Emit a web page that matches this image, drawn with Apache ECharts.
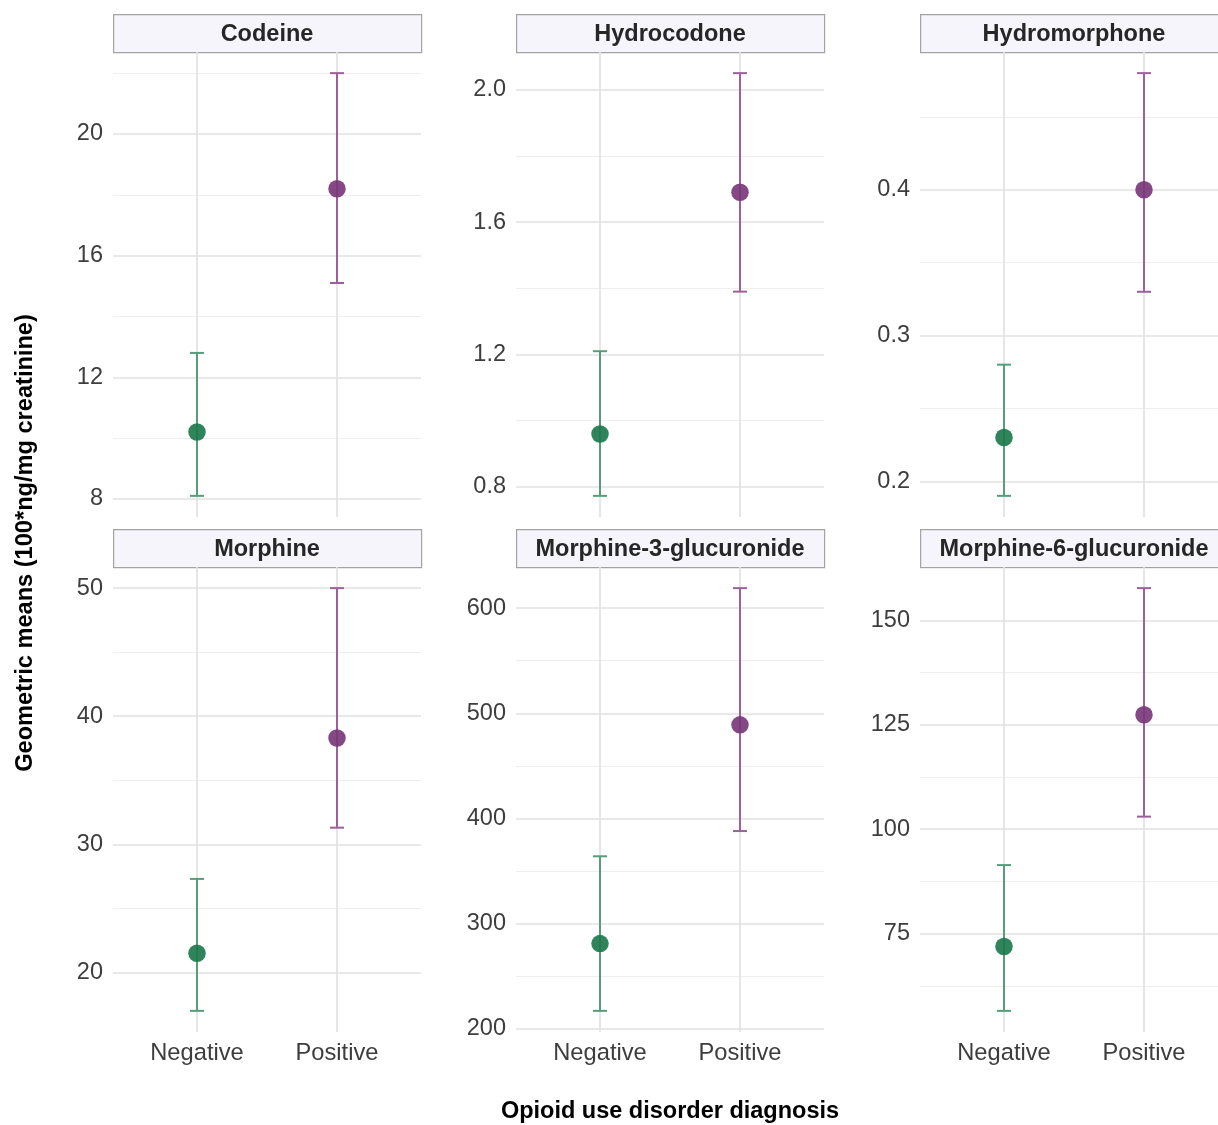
<!DOCTYPE html>
<html><head><meta charset="utf-8">
<script src="https://cdn.jsdelivr.net/npm/echarts@6/dist/echarts.min.js"></script>
<style>html,body{margin:0;padding:0;background:#fff;overflow:hidden}#c{width:1232px;height:1125px}</style>
</head><body><div id="c"></div>
<script>
// ---- data ----
const panels = ['Codeine','Hydrocodone','Hydromorphone','Morphine','Morphine-3-glucuronide','Morphine-6-glucuronide'];
const groups = ['Negative','Positive'];
const negMean  = [10.2, 0.96, 0.23, 21.5, 281, 71.9];
const negLower = [8.1, 0.773, 0.19, 17.0, 217, 56.5];
const negUpper = [12.8, 1.21, 0.28, 27.3, 364, 91.4];
const posMean  = [18.2, 1.69, 0.40, 38.3, 489, 127.4];
const posLower = [15.1, 1.39, 0.33, 31.3, 388, 103.0];
const posUpper = [22.0, 2.05, 0.48, 50.0, 619, 157.7];
const majorTicks = [['8','12','16','20'],['0.8','1.2','1.6','2.0'],['0.2','0.3','0.4'],['20','30','40','50'],['200','300','400','500','600'],['75','100','125','150']];
const minorTicks = [[10,14,18,22],[1.0,1.4,1.8],[0.25,0.35,0.45],[25,35,45],[250,350,450,550],[62.5,87.5,112.5,137.5,162.5]];
const yTitle = 'Geometric means (100*ng/mg creatinine)';
const xTitle = 'Opioid use disorder diagnosis';

// ---- style / layout ----
const FONT = '"Liberation Sans", Arial, Helvetica, sans-serif';
const pointColors = ['#1d7a4e', '#7a387a'];
const barColors = ['#579d7a', '#9d609b'];
const colLeft = [113, 516, 920];
const rowTop = [52, 567];
const panelW = 308, panelH = 465, stripH = 38;

const grids = [], xAxes = [], yAxes = [], series = [], graphics = [];

panels.forEach((name, i) => {
  const col = i % 3, row = Math.floor(i / 3);
  const left = colLeft[col], top = rowTop[row];
  grids.push({left: left, top: top, width: panelW, height: panelH, containLabel: false});

  const lo = Math.min(negLower[i], posLower[i]);
  const hi = Math.max(negUpper[i], posUpper[i]);
  const pad = (hi - lo) * 0.05;
  const yMin = lo - pad, yMax = hi + pad;
  const majors = majorTicks[i].map(Number);
  const labels = majorTicks[i];

  xAxes.push({
    gridIndex: i, type: 'value', min: 0.4, max: 2.6,
    axisLine: {show: false},
    axisTick: {show: false, customValues: [1, 2]},
    axisLabel: {show: row === 1, customValues: [1, 2], formatter: v => groups[Math.round(v) - 1],
      fontSize: 23.7, color: '#3d3d3d', margin: 9, fontFamily: FONT},
    splitLine: {show: true, lineStyle: {color: '#e2e2e2', width: 1.7}}
  });
  yAxes.push({
    gridIndex: i, type: 'value', min: yMin, max: yMax,
    axisLine: {show: false},
    axisTick: {show: false, customValues: majors},
    axisLabel: {customValues: majors, fontSize: 23.5, color: '#3d3d3d', margin: 10, fontFamily: FONT,
      formatter: v => { const k = majors.findIndex(m => Math.abs(m - v) < 1e-9); return k >= 0 ? labels[k] : ''; }},
    splitLine: {show: true, lineStyle: {color: '#e2e2e2', width: 1.7}}
  });
  yAxes.push({
    gridIndex: i, type: 'value', min: yMin, max: yMax, position: 'left',
    axisLine: {show: false},
    axisTick: {show: false, customValues: minorTicks[i]},
    axisLabel: {show: false},
    splitLine: {show: true, lineStyle: {color: '#eeeeee', width: 1}}
  });

  series.push({
    type: 'custom', xAxisIndex: i, yAxisIndex: 2 * i, z: 2, silent: true,
    encode: {x: 0, y: [1, 2]},
    data: [[1, negLower[i], negUpper[i], 0], [2, posLower[i], posUpper[i], 1]],
    renderItem: (params, api) => {
      const x = api.value(0);
      const p1 = api.coord([x, api.value(1)]);
      const p2 = api.coord([x, api.value(2)]);
      const c = barColors[api.value(3)];
      const cw = 7;
      const st = {stroke: c, lineWidth: 2};
      return {type: 'group', children: [
        {type: 'line', shape: {x1: p1[0], y1: p1[1], x2: p2[0], y2: p2[1]}, style: st},
        {type: 'line', shape: {x1: p1[0] - cw, y1: p1[1], x2: p1[0] + cw, y2: p1[1]}, style: st},
        {type: 'line', shape: {x1: p2[0] - cw, y1: p2[1], x2: p2[0] + cw, y2: p2[1]}, style: st}
      ]};
    }
  });
  series.push({
    type: 'scatter', xAxisIndex: i, yAxisIndex: 2 * i, z: 3, silent: true,
    symbolSize: 17.5,
    data: [
      {value: [1, negMean[i]], itemStyle: {color: pointColors[0], opacity: 0.92}},
      {value: [2, posMean[i]], itemStyle: {color: pointColors[1], opacity: 0.92}}
    ]
  });

  // facet strip
  graphics.push({
    type: 'rect', left: left, top: top - stripH, silent: true,
    shape: {width: panelW, height: stripH},
    style: {fill: '#f5f5fb', stroke: '#a3a3a3', lineWidth: 1.2}
  });
  graphics.push({
    type: 'text', x: left + panelW / 2, y: top - stripH / 2 + 2, silent: true,
    style: {text: name, font: 'bold 23.5px ' + FONT, fill: '#262626', align: 'center', verticalAlign: 'middle'}
  });
});

graphics.push({
  type: 'text', x: 25, y: 543, rotation: Math.PI / 2, silent: true,
  style: {text: yTitle, font: 'bold 23.6px ' + FONT, fill: '#000', align: 'center', verticalAlign: 'middle'}
});
graphics.push({
  type: 'text', x: 670, y: 1112, silent: true,
  style: {text: xTitle, font: 'bold 23.5px ' + FONT, fill: '#000', align: 'center', verticalAlign: 'middle'}
});

const chart = echarts.init(document.getElementById('c'), null, {renderer: 'canvas'});
chart.setOption({
  animation: false,
  backgroundColor: '#ffffff',
  grid: grids, xAxis: xAxes, yAxis: yAxes, series: series, graphic: graphics
});
</script></body></html>
